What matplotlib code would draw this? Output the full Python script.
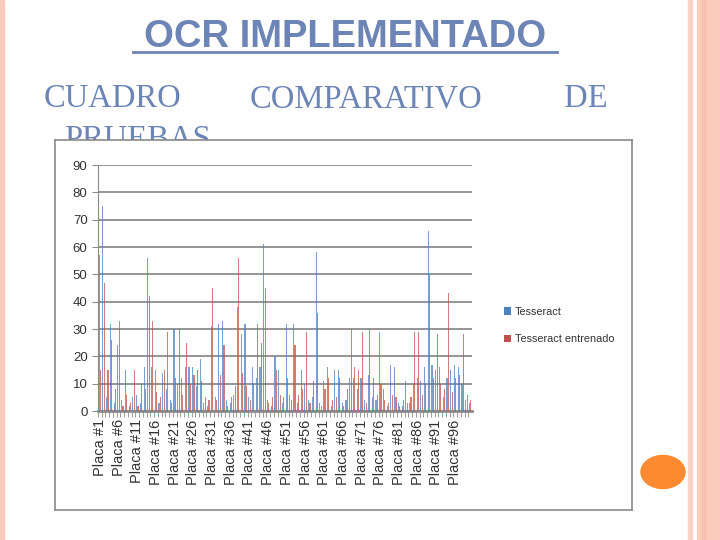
import matplotlib.pyplot as plt
import numpy as np
from matplotlib.patches import Rectangle, Circle
from matplotlib.lines import Line2D

W, H = 720, 540

# data (Placa #1 .. Placa #100)
placas = ["Placa #%d" % i for i in range(1, 101)]
tesseract = [57, 75, 5, 32, 3, 24, 4, 15, 2, 5,
             6, 3, 16, 56, 16, 15, 3, 14, 8, 4,
             30, 10, 12, 16, 16, 16, 9, 19, 3, 2,
             31, 5, 32, 33, 4, 3, 6, 38, 28, 32,
             5, 16, 12, 16, 61, 4, 2, 20, 15, 3,
             32, 6, 32, 3, 15, 10, 4, 5, 58, 3,
             11, 16, 2, 15, 15, 3, 4, 12, 12, 8,
             12, 4, 13, 5, 4, 29, 8, 2, 17, 16,
             3, 2, 11, 3, 10, 12, 11, 16, 66, 17,
             15, 16, 5, 12, 15, 17, 16, 10, 4, 3]
entrenado = [15, 47, 15, 26, 8, 33, 2, 6, 3, 15,
             2, 10, 8, 42, 33, 7, 5, 15, 29, 3,
             12, 30, 6, 25, 10, 13, 15, 11, 5, 4,
             45, 4, 13, 24, 2, 5, 9, 56, 14, 9,
             4, 10, 32, 25, 45, 3, 5, 15, 6, 5,
             12, 4, 24, 6, 8, 29, 3, 11, 36, 2,
             8, 12, 4, 5, 12, 2, 8, 30, 16, 15,
             29, 3, 30, 12, 6, 10, 4, 3, 6, 5,
             2, 4, 3, 5, 29, 29, 6, 10, 50, 12,
             28, 10, 8, 43, 7, 12, 13, 28, 6, 4]
yticks = [0, 10, 20, 30, 40, 50, 60, 70, 80, 90]

fig = plt.figure(figsize=(7.2, 5.4), dpi=100)
fig.patch.set_facecolor("white")

def fx(x):
    return x / W

def fy(y):
    return 1 - y / H

# pink stripes at the slide borders
fig.patches.append(Rectangle((0, 0), fx(4), 1, transform=fig.transFigure, color="#FBCBBB", zorder=1))
for x0, x1, c in [(688, 692, "#FBD3C5"), (697, 702, "#FBCBBB"), (702, 707, "#F8C0AE"), (707, 720, "#FBCBBB")]:
    fig.patches.append(Rectangle((fx(x0), 0), fx(x1 - x0), 1, transform=fig.transFigure, color=c, zorder=1))

# orange dot
fig.patches.append(Circle((fx(663), fy(472)), fx(22), transform=fig.transFigure, color="#FD8A30", zorder=1))

slate = "#6D84B6"
fig.text(fx(345), fy(37), "OCR IMPLEMENTADO", ha="center", va="center", fontsize=27.5,
         fontweight="bold", family="Liberation Sans", color=slate)
fig.lines.append(Line2D([fx(133), fx(557)], [fy(52), fy(52)], transform=fig.transFigure, color=slate, lw=2))

serif = dict(fontsize=23.5, family="Liberation Serif", color=slate, va="center")
fig.text(fx(44), fy(99), "CUADRO", **serif)
fig.text(fx(250), fy(99), "COMPARATIVO", **serif)
fig.text(fx(564), fy(99), "DE", **serif)
fig.text(fx(64), fy(140), "PRUEBAS", **serif)

# chart image frame
box = fig.add_axes([fx(55), fy(510), fx(632 - 55), (510 - 140) / H])
box.set_xticks([])
box.set_yticks([])
box.set_facecolor("white")
for s in box.spines.values():
    s.set_color("#8A8A8A")
    s.set_linewidth(1.2)
box.set_zorder(4)

ax = fig.add_axes([fx(98), fy(411), fx(472 - 98), (411 - 165) / H])
ax.set_zorder(5)
ax.patch.set_visible(False)

x = np.arange(len(placas))
b1 = ax.bar(x - 0.18, tesseract, width=0.3, color="#4F81BD", alpha=0.75, label="Tesseract", zorder=3)
b2 = ax.bar(x + 0.18, entrenado, width=0.3, color="#C0504D", alpha=0.75, label="Tesseract entrenado", zorder=3)

ax.set_xlim(-0.5, len(placas) - 0.5)
ax.set_ylim(0, 90)
ax.set_yticks(yticks)
ax.grid(axis="y", color="#8C8C8C", lw=1.3, zorder=0)
for s in ["top", "right"]:
    ax.spines[s].set_visible(False)
ax.spines["left"].set_color("#8C8C8C")
ax.spines["bottom"].set_color("#8C8C8C")
ax.spines["bottom"].set_linewidth(2)
ax.set_xticks(x - 0.5, minor=True)
ax.set_xticks(x[::5])
ax.set_xticklabels(placas[::5], rotation=90, fontsize=10.5, family="Liberation Sans", color="#333333")
ax.tick_params(axis="x", which="major", length=0, pad=6)
ax.tick_params(axis="x", which="minor", length=4, color="#8C8C8C")
ax.tick_params(axis="y", length=4, color="#8C8C8C", labelsize=9.5, labelcolor="#333333")
for t in ax.get_yticklabels():
    t.set_family("Liberation Sans")

leg = ax.legend(handles=[b1, b2], loc="center left", bbox_to_anchor=(fx(494), fy(325.5)),
                bbox_transform=fig.transFigure, frameon=False,
                handlelength=0.7, handleheight=0.7, handletextpad=0.3, labelspacing=1.6,
                prop={"family": "Liberation Sans", "size": 7.8})
for t in leg.get_texts():
    t.set_color("#333333")
for h in leg.legend_handles:
    h.set_alpha(1)

fig.savefig("out.png", dpi=100)
